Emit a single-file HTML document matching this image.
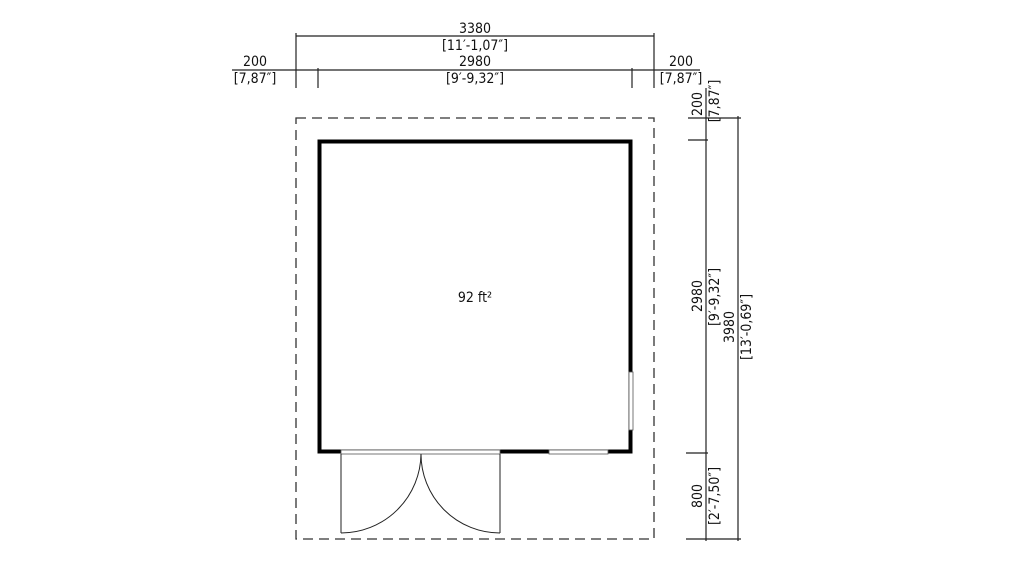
<!DOCTYPE html>
<html><head><meta charset="utf-8"><style>
html,body{margin:0;padding:0;background:#fff;}
svg text{font-family:"DejaVu Sans Condensed","Liberation Sans",sans-serif;font-size:14px;fill:#111;text-anchor:middle;}
</style></head><body>
<svg width="1024" height="576" viewBox="0 0 1024 576" xmlns="http://www.w3.org/2000/svg">
<g stroke="#222" stroke-width="1.2" fill="none">
<line x1="296" y1="36" x2="654" y2="36"/>
<line x1="232" y1="70" x2="700" y2="70"/>
<line x1="296" y1="33" x2="296" y2="88"/>
<line x1="654" y1="33" x2="654" y2="88"/>
<line x1="318" y1="68" x2="318" y2="88"/>
<line x1="632" y1="68" x2="632" y2="88"/>
<line x1="706" y1="88" x2="706" y2="541"/>
<line x1="738" y1="116" x2="738" y2="541"/>
<line x1="688" y1="118" x2="741" y2="118"/>
<line x1="688" y1="140" x2="708" y2="140"/>
<line x1="686" y1="453" x2="708" y2="453"/>
<line x1="686" y1="539" x2="741" y2="539"/>
</g>
<rect x="296" y="118" width="358" height="421" fill="none" stroke="#333" stroke-width="1.3" stroke-dasharray="10,6"/>
<rect x="319.5" y="141.5" width="311" height="310" fill="none" stroke="#000" stroke-width="4"/>
<rect x="341" y="450" width="159" height="4" fill="#fff" stroke="#555" stroke-width="0.8"/>
<rect x="549" y="450" width="59" height="4" fill="#fff" stroke="#555" stroke-width="0.8"/>
<rect x="629" y="372" width="4" height="58" fill="#fff" stroke="#555" stroke-width="0.8"/>
<g stroke="#222" stroke-width="1" fill="none">
<line x1="341" y1="454" x2="341" y2="533"/>
<path d="M341 533 A80 80 0 0 0 421 454"/>
<line x1="500" y1="454" x2="500" y2="533"/>
<path d="M500 533 A79 79 0 0 1 421 454"/>
</g>
<text x="475" y="33">3380</text>
<text x="475" y="50">[11′-1,07″]</text>
<text x="475" y="66">2980</text>
<text x="475" y="83">[9′-9,32″]</text>
<text x="255" y="66">200</text>
<text x="255" y="83">[7,87″]</text>
<text x="681" y="66">200</text>
<text x="681" y="83">[7,87″]</text>
<text x="475" y="302">92 ft²</text>
<g>
<text transform="translate(702,104) rotate(-90)">200</text>
<text transform="translate(719,101) rotate(-90)">[7,87″]</text>
<text transform="translate(702,296) rotate(-90)">2980</text>
<text transform="translate(719,297) rotate(-90)">[9′-9,32″]</text>
<text transform="translate(734,327) rotate(-90)">3980</text>
<text transform="translate(751,327) rotate(-90)">[13′-0,69″]</text>
<text transform="translate(702,496) rotate(-90)">800</text>
<text transform="translate(719,496) rotate(-90)">[2′-7,50″]</text>
</g>
</svg>
</body></html>
